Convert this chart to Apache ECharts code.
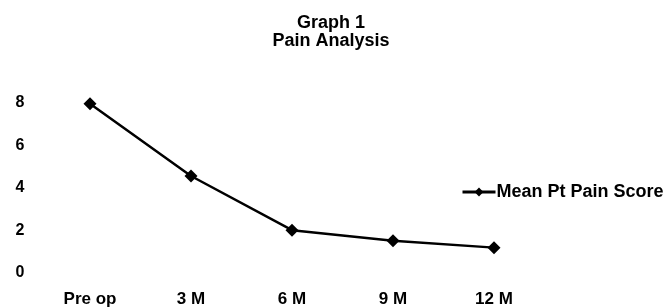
<!DOCTYPE html>
<html><head><meta charset="utf-8">
<script src="https://cdn.jsdelivr.net/npm/echarts@6/dist/echarts.min.js"></script>
<style>html,body{margin:0;padding:0;background:#fff}#c{width:665px;height:308px}</style>
</head><body><div id="c"></div>
<script>
const categories = ['Pre op', '3 M', '6 M', '9 M', '12 M'];
const meanPainScore = [7.95, 4.55, 2.0, 1.5, 1.18];
const seriesName = 'Mean Pt Pain Score';
const titleLines = ['Graph 1', 'Pain Analysis'];

const font = 'Liberation Sans, Arial, sans-serif';
const chart = echarts.init(document.getElementById('c'), null, {renderer: 'canvas'});
chart.setOption({
  animation: false,
  backgroundColor: '#fff',
  title: {
    text: titleLines.join('\n'),
    left: 326, top: 9, textAlign: 'center',
    textStyle: {fontFamily: font, fontWeight: 'bold', fontSize: 18, color: '#000', lineHeight: 18}
  },
  legend: {
    data: [seriesName],
    left: 456, top: 178,
    itemWidth: 33, itemHeight: 11, itemGap: 4,
    lineStyle: {width: 3},
    textStyle: {fontFamily: font, fontWeight: 'bold', fontSize: 18, color: '#000', padding: [0,0,0,-4]}
  },
  grid: {left: 39.5, right: 120.5, top: 102.7, bottom: 35.3},
  xAxis: {
    type: 'category', data: categories, boundaryGap: true,
    axisLine: {show: false}, axisTick: {show: false},
    axisLabel: {fontFamily: font, fontWeight: 'bold', fontSize: 17, color: '#000', margin: 18}
  },
  yAxis: {
    type: 'value', min: 0, max: 8, interval: 2,
    axisLine: {show: false}, axisTick: {show: false}, splitLine: {show: false},
    axisLabel: {fontFamily: font, fontWeight: 'bold', fontSize: 16, color: '#000', margin: 15}
  },
  series: [{
    name: seriesName, type: 'line', data: meanPainScore,
    symbol: 'diamond', symbolSize: 13,
    lineStyle: {color: '#000', width: 2.5},
    itemStyle: {color: '#000'}
  }]
});
</script></body></html>
